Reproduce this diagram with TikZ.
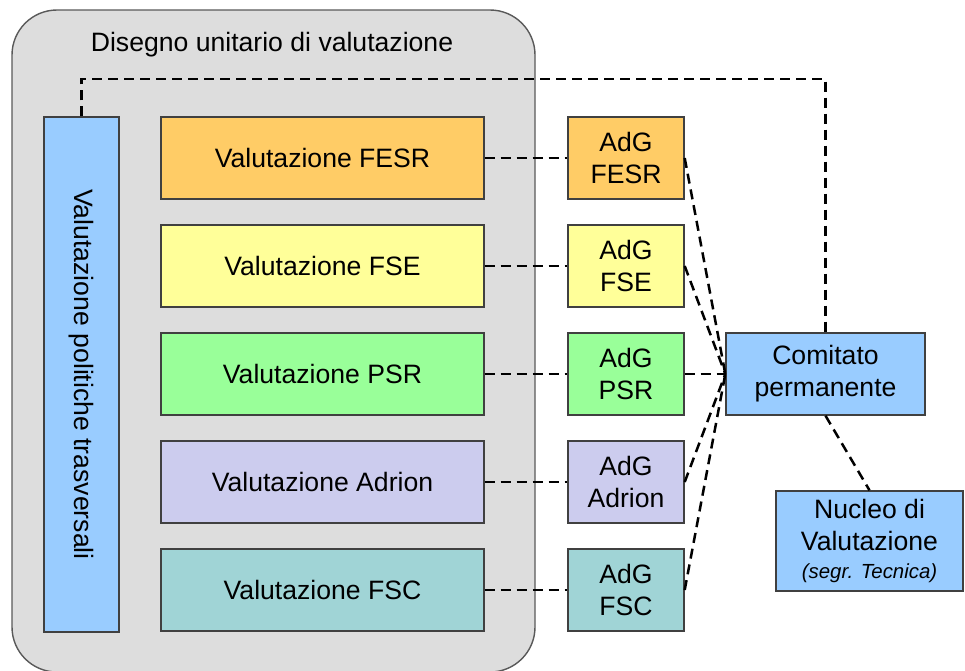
\documentclass[tikz,border=0pt]{standalone}
\usepackage{fontspec}
\setmainfont{Liberation Sans}
\usepackage{xcolor}
\usetikzlibrary{arrows}

\definecolor{fondgris}{HTML}{DDDDDD}
\definecolor{bleuciel}{HTML}{99CCFF}
\definecolor{cfesr}{HTML}{FFCC66}
\definecolor{cfse}{HTML}{FFFF99}
\definecolor{cpsr}{HTML}{99FF99}
\definecolor{cadrion}{HTML}{CCCCEE}
\definecolor{cfsc}{HTML}{A0D4D6}

\tikzset{
  boite/.style={draw=black!75, line width=1.4pt, inner sep=0pt, align=center,
    minimum height=82pt, font=\fontsize{26.6}{32}\selectfont},
  lien/.style={line width=2.5pt, dash pattern=on 10pt off 6pt},
}

\begin{document}
\begin{tikzpicture}[x=1pt,y=-1pt]
                \useasboundingbox (0,0) rectangle (965,670);

                % Le cadre gris
                \draw[draw=black!65, fill=fondgris, line width=1.4pt, rounded corners=45pt]
                    (12,10) rectangle (535,672);
                \node[font=\fontsize{26.6}{32}\selectfont] (titre) at (272,45) {Disegno unitario di valutazione};

                % La barre verticale
                \node[boite, fill=bleuciel, rotate=-90, minimum width=515pt, minimum height=75pt]
                    (barre) at (81.5,374.5) {Valutazione politiche trasversali};

                % Les deux boites de droite
                \node[boite, fill=bleuciel, minimum width=199pt] (comitato) at (825.5,374) {Comitato\\permanente};
                \node[boite, fill=bleuciel, minimum width=187pt, minimum height=100pt] (nucleo) at (869.5,541)
                    {Nucleo di\\Valutazione\\[-4pt]{\fontsize{20.4}{24}\itshape (segr. Tecnica)}};

                % Les lignes de valutazione et AdG
                \foreach \y/\nom/\lab in {158/fesr/FESR, 266/fse/FSE, 374/psr/PSR, 482/adrion/Adrion, 590/fsc/FSC} {
                    \node[boite, fill=c\nom, minimum width=323pt] (val\nom) at (322.5,\y) {Valutazione \lab};
                    \node[boite, fill=c\nom, minimum width=116pt] (adg\nom) at (626,\y) {AdG\\\lab};
                    \draw[lien] (val\nom) -- (adg\nom);
                    \draw[lien] (adg\nom.east) -- (comitato.west);
                }

                % Les liaisons du comitato
                \coordinate (coin) at (825.5,79);
                \draw[lien] (barre.west) |- (coin) -- (comitato.north);
                \draw[lien] (comitato.south) -- (nucleo.north);
\end{tikzpicture}
\end{document}
